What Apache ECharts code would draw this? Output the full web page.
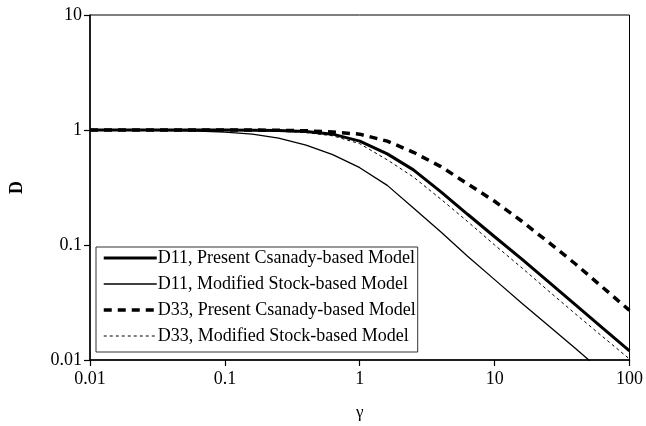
<!DOCTYPE html>
<html>
<head>
<meta charset="utf-8">
<script src="https://cdn.jsdelivr.net/npm/echarts@6/dist/echarts.min.js"></script>
<style>
  html, body { margin: 0; padding: 0; background: #fff; }
  #chart { width: 646px; height: 426px; }
</style>
</head>
<body>
<div id="chart"></div>
<script>
// gamma values shared by all four curves
var gamma = [0.01, 0.016, 0.025, 0.04, 0.063, 0.1, 0.16, 0.25, 0.4, 0.63, 1, 1.6, 2.5, 4, 6.3, 10, 16, 25, 40, 63, 100];

// D, one list per curve
var d11Csanady = [1, 1, 1, 1, 1, 1, 0.995, 0.99, 0.97, 0.92, 0.80, 0.62, 0.45, 0.29, 0.185, 0.118, 0.075, 0.048, 0.030, 0.019, 0.012];
var d11Stock   = [1, 1, 0.995, 0.99, 0.98, 0.96, 0.92, 0.85, 0.74, 0.61, 0.47, 0.33, 0.21, 0.13, 0.08, 0.05, 0.031, 0.02, 0.0125, 0.0079, 0.005];
var d33Csanady = [1, 1, 1, 1, 1, 1, 1, 0.995, 0.985, 0.96, 0.92, 0.80, 0.64, 0.48, 0.34, 0.24, 0.16, 0.106, 0.068, 0.043, 0.027];
var d33Stock   = [1, 1, 1, 1, 1, 1, 0.99, 0.98, 0.95, 0.89, 0.76, 0.55, 0.39, 0.25, 0.16, 0.10, 0.063, 0.040, 0.025, 0.016, 0.0102];

var names = [
    'D11, Present Csanady-based Model',
    'D11, Modified Stock-based Model',
    'D33, Present Csanady-based Model',
    'D33, Modified Stock-based Model'
];

// line look of each curve, used for the series and for the legend samples
var styles = [
    { color: '#000', width: 3, type: 'solid' },
    { color: '#000', width: 1.3, type: 'solid' },
    { color: '#000', width: 3.5, type: [8, 6] },
    { color: '#000', width: 1, type: [3, 3] }
];

function pairs(ys) {
    return gamma.map((g, i) => [g, ys[i]]);
}

var font = '"Liberation Serif", "Times New Roman", serif';

var chart = echarts.init(document.getElementById('chart'));

var option = {
    animation: false,
    backgroundColor: '#fff',
    color: ['#000', '#000', '#000', '#000'],
    textStyle: { fontFamily: font, color: '#000' },
    grid: { left: 88, right: 16, top: 15, bottom: 66, show: true, borderColor: '#000', borderWidth: 1 },
    legend: {
        orient: 'vertical',
        left: 96, top: 247,
        padding: [1, 2, 6, 6],
        itemGap: 6,
        itemWidth: 53, itemHeight: 14,
        backgroundColor: '#fff',
        borderColor: '#333', borderWidth: 1,
        itemStyle: { opacity: 0 },
        textStyle: { fontFamily: font, fontSize: 18, color: '#000', lineHeight: 20, padding: [0, 0, 0, -4] },
        data: names.map((n, i) => ({ name: n, lineStyle: styles[i] }))
    },
    xAxis: {
        type: 'log', logBase: 10, min: 0.01, max: 100,
        name: 'γ', nameLocation: 'middle', nameGap: 44,
        nameTextStyle: { fontFamily: font, fontSize: 17, color: '#000' },
        axisLine: { lineStyle: { color: '#000', width: 1.5 } },
        axisTick: { length: 6, lineStyle: { color: '#000', width: 1.2 } },
        axisLabel: { fontFamily: font, fontSize: 18, color: '#000', margin: 10 },
        splitLine: { show: false },
        minorTick: { show: false }
    },
    yAxis: {
        type: 'log', logBase: 10, min: 0.01, max: 10,
        name: 'D', nameLocation: 'middle', nameGap: 64,
        nameTextStyle: { fontFamily: font, fontSize: 18, fontWeight: 'bold', color: '#000' },
        axisLine: { lineStyle: { color: '#000', width: 1.5 } },
        axisTick: { length: 6, lineStyle: { color: '#000', width: 1.2 } },
        axisLabel: { fontFamily: font, fontSize: 18, color: '#000', margin: 8 },
        splitLine: { show: false },
        minorTick: { show: false }
    },
    series: [
        { name: names[0], type: 'line', symbol: 'none', data: pairs(d11Csanady), lineStyle: styles[0] },
        { name: names[1], type: 'line', symbol: 'none', data: pairs(d11Stock), lineStyle: styles[1] },
        { name: names[2], type: 'line', symbol: 'none', data: pairs(d33Csanady), lineStyle: styles[2] },
        { name: names[3], type: 'line', symbol: 'none', data: pairs(d33Stock), lineStyle: styles[3] }
    ]
};

chart.setOption(option);
</script>
</body>
</html>
